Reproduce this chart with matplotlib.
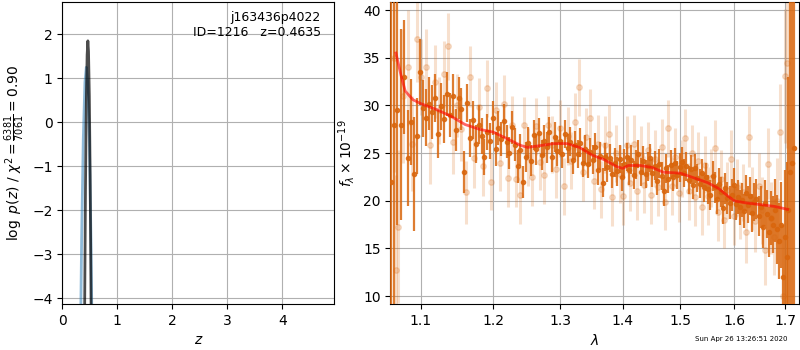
import matplotlib
matplotlib.use("Agg")
import matplotlib.pyplot as plt
from matplotlib.ticker import NullLocator, NullFormatter, FixedLocator, FixedFormatter

# --- p(z) panel ---
z_fit = [0.405, 0.420, 0.435, 0.450, 0.4635, 0.475, 0.490, 0.505, 0.520, 0.526]
logp_fit = [-4.23, -1.51, 0.41, 1.53, 1.85, 1.61, 0.60, -1.21, -3.83, -4.90]

z_prior = [0.320, 0.350, 0.380, 0.410, 0.435, 0.460, 0.490, 0.520, 0.550]
logp_prior = [-5.90, -2.65, -0.38, 0.91, 1.25, 0.91, -0.38, -2.65, -5.90]

title_text = "j163436p4022\nID=1216   z=0.4635"
timestamp = "Sun Apr 26 13:26:51 2020"

# --- spectrum panel: strong points ---
wave_a = [1.062, 1.066, 1.070, 1.074, 1.079, 1.083, 1.087, 1.091, 1.095, 1.099,
          1.103, 1.107, 1.111, 1.115, 1.119, 1.123, 1.127, 1.131, 1.135, 1.139,
          1.143, 1.147, 1.151, 1.155, 1.159, 1.163, 1.167, 1.171, 1.175, 1.179,
          1.183, 1.187, 1.191, 1.195, 1.199, 1.203, 1.207, 1.211, 1.215, 1.219,
          1.223, 1.227, 1.231, 1.235, 1.239, 1.243, 1.247, 1.251, 1.255, 1.259,
          1.263, 1.267, 1.271, 1.275, 1.279, 1.283, 1.287, 1.291, 1.295, 1.299,
          1.303, 1.307, 1.311, 1.315, 1.319, 1.323, 1.327, 1.331, 1.335, 1.339,
          1.343, 1.347, 1.351, 1.355, 1.359, 1.363, 1.367, 1.371, 1.375, 1.379,
          1.383, 1.387, 1.391, 1.395, 1.399, 1.403, 1.407, 1.411, 1.415, 1.419,
          1.423, 1.427, 1.431, 1.435, 1.439, 1.443, 1.447, 1.451, 1.455, 1.459,
          1.463, 1.467, 1.471, 1.475, 1.479, 1.483, 1.487, 1.491, 1.495, 1.499,
          1.503, 1.507, 1.511, 1.515, 1.519, 1.523, 1.527, 1.531, 1.535, 1.539,
          1.543, 1.547, 1.551, 1.555, 1.559, 1.563, 1.567, 1.571, 1.575, 1.579,
          1.583, 1.587, 1.591, 1.595, 1.599, 1.603, 1.607, 1.611, 1.615, 1.619,
          1.623, 1.627, 1.631, 1.635, 1.639, 1.643, 1.647, 1.651, 1.655, 1.659,
          1.663, 1.667, 1.671, 1.675, 1.679, 1.683, 1.687, 1.691, 1.695, 1.699,
          1.703, 1.707, 1.711, 1.715, 1.719]
flux_a = [22.0, 28.0, 29.5, 28.0, 33.0, 24.5, 28.3, 22.8, 26.8, 33.5,
          29.7, 28.7, 30.2, 29.3, 30.8, 27.0, 29.9, 28.6, 31.2, 29.0,
          31.0, 27.4, 30.8, 29.6, 23.0, 30.3, 26.6, 28.5, 26.0, 28.0,
          26.8, 24.6, 27.2, 26.3, 28.7, 25.4, 27.6, 26.5, 28.4, 26.2,
          25.0, 27.7, 25.9, 23.6, 25.3, 22.0, 24.6, 26.1, 24.2, 26.9,
          25.4, 27.1, 24.8, 26.3, 25.6, 27.2, 24.6, 26.7, 25.2, 26.3,
          24.9, 27.0, 25.5, 26.2, 24.3, 25.8, 24.9, 26.1, 24.0, 25.4,
          23.9, 25.1, 24.3, 25.6, 23.2, 24.7, 21.9, 24.6, 23.5, 24.5,
          22.8, 24.0, 23.1, 24.4, 22.5, 23.9, 24.6, 23.2, 24.3, 22.7,
          23.8, 24.9, 23.0, 24.2, 22.8, 23.6, 24.5, 22.9, 23.7, 22.1,
          23.9, 22.6, 21.0, 23.4, 22.3, 23.8, 22.5, 24.0, 22.7, 23.5,
          24.1, 22.9, 23.6, 22.2, 23.3, 21.7, 23.4, 22.4, 21.8, 22.9,
          21.4, 22.5, 21.2, 20.6, 22.6, 21.4, 20.2, 21.8, 20.9, 19.2,
          21.3, 20.3, 19.8, 20.6, 21.7, 19.7, 20.4, 19.3, 20.1, 18.9,
          20.8, 19.6, 20.5, 18.7, 19.9, 20.2, 18.4, 19.3, 17.3, 19.8,
          18.6, 16.7, 18.2, 17.5, 19.0, 17.0, 15.8, 17.5, 12.0, 16.2,
          14.1, 19.0, 23.0, 24.0, 25.5]
err_a = [30, 20, 12, 10, 6, 5, 4.5, 6, 4, 3.5,
         3, 3, 2.8, 2.8, 2.5, 2.5, 2.5, 2.5, 2.3, 2.3,
         2.3, 2.2, 2.2, 2.2, 2.2, 2.0, 2.0, 2.0, 2.0, 2.0,
         1.9, 1.9, 1.9, 1.9, 1.8, 1.8, 1.8, 1.8, 1.8, 1.7,
         1.7, 1.7, 1.7, 1.7, 1.7, 1.7, 1.6, 1.6, 1.6, 1.6,
         1.6, 1.6, 1.6, 1.6, 1.6, 1.6, 1.6, 1.6, 1.6, 1.5,
         1.5, 1.5, 1.5, 1.5, 1.5, 1.5, 1.5, 1.5, 1.5, 1.5,
         1.5, 1.5, 1.5, 1.5, 1.5, 1.5, 1.5, 1.5, 1.5, 1.5,
         1.5, 1.5, 1.5, 1.5, 1.5, 1.5, 1.5, 1.5, 1.5, 1.5,
         1.5, 1.5, 1.5, 1.5, 1.5, 1.5, 1.5, 1.5, 1.5, 1.5,
         1.5, 1.5, 1.5, 1.5, 1.5, 1.5, 1.5, 1.5, 1.5, 1.5,
         1.5, 1.5, 1.5, 1.5, 1.5, 1.5, 1.5, 1.5, 1.5, 1.5,
         1.5, 1.5, 1.5, 1.6, 1.6, 1.6, 1.6, 1.6, 1.6, 1.6,
         1.6, 1.7, 1.7, 1.7, 1.7, 1.7, 1.8, 1.8, 1.8, 1.8,
         1.9, 1.9, 2.0, 2.0, 2.0, 2.1, 2.1, 2.2, 2.3, 2.4,
         2.5, 2.6, 2.8, 3.0, 3.3, 3.6, 4.0, 4.5, 5.5, 7,
         10, 14, 20, 25, 30]

# --- spectrum panel: faint points ---
wave_b = [1.065, 1.068, 1.071, 1.077, 1.083, 1.089, 1.095, 1.101, 1.107, 1.113,
          1.119, 1.125, 1.131, 1.137, 1.143, 1.149, 1.155, 1.161, 1.167, 1.173,
          1.179, 1.185, 1.191, 1.197, 1.203, 1.209, 1.215, 1.221, 1.227, 1.233,
          1.239, 1.245, 1.251, 1.257, 1.263, 1.269, 1.275, 1.281, 1.287, 1.293,
          1.299, 1.305, 1.311, 1.317, 1.323, 1.329, 1.335, 1.341, 1.347, 1.353,
          1.359, 1.365, 1.371, 1.377, 1.383, 1.389, 1.395, 1.401, 1.407, 1.413,
          1.419, 1.425, 1.431, 1.437, 1.443, 1.449, 1.455, 1.461, 1.467, 1.473,
          1.479, 1.485, 1.491, 1.497, 1.503, 1.509, 1.515, 1.521, 1.527, 1.533,
          1.539, 1.545, 1.551, 1.557, 1.563, 1.569, 1.575, 1.581, 1.587, 1.593,
          1.599, 1.605, 1.611, 1.617, 1.623, 1.629, 1.635, 1.641, 1.647, 1.653,
          1.659, 1.665, 1.671, 1.677, 1.683, 1.689, 1.695, 1.699, 1.703]
flux_b = [35.0, 12.7, 17.3, 31.0, 34.0, 26.0, 37.0, 33.0, 34.0, 25.8,
          32.5, 29.5, 33.3, 36.2, 26.2, 30.0, 27.5, 20.9, 33.0, 24.5,
          29.8, 23.6, 31.8, 22.0, 29.5, 24.0, 30.2, 22.4, 28.0, 22.3,
          20.6, 27.9, 24.6, 22.5, 27.8, 24.1, 22.7, 28.0, 25.9, 23.3,
          27.6, 21.5, 26.8, 24.2, 28.3, 31.9, 23.0, 26.7, 28.7, 22.1,
          26.0, 21.2, 25.9, 27.0, 20.4, 25.0, 22.8, 20.5, 25.9, 21.9,
          26.0, 21.0, 24.8, 21.7, 25.3, 20.6, 24.4, 21.4, 25.6, 19.9,
          27.6, 21.5, 24.6, 20.8, 23.4, 26.6, 21.0, 25.0, 20.4, 24.2,
          19.4, 23.8, 20.5, 22.4, 25.5, 18.8, 22.3, 18.0, 21.1, 24.4,
          18.4, 21.4, 19.0, 20.9, 16.7, 26.7, 20.2, 17.9, 21.6, 19.0,
          14.8, 23.9, 18.2, 16.2, 20.0, 27.2, 10.0, 33.1, 34.5]
err_b = [12, 10, 8, 7, 6, 5, 4.5, 4, 4, 4,
         3.8, 3.5, 3.5, 3.5, 3.4, 3.3, 3.3, 3.3, 3.2, 3.2,
         3.1, 3.1, 3.0, 3.0, 3.0, 3.0, 3.0, 3.0, 3.0, 3.0,
         3.0, 3.0, 3.0, 3.0, 3.0, 3.0, 3.0, 3.0, 3.0, 3.0,
         3.0, 3.0, 3.0, 3.0, 3.0, 3.0, 3.0, 3.0, 3.0, 3.0,
         3.0, 3.0, 3.0, 3.0, 3.0, 3.0, 3.0, 3.0, 3.0, 3.0,
         3.0, 3.0, 3.0, 3.0, 3.0, 3.0, 3.0, 3.0, 3.0, 3.0,
         3.0, 3.0, 3.0, 3.0, 3.0, 3.0, 3.0, 3.0, 3.0, 3.0,
         3.0, 3.0, 3.0, 3.0, 3.0, 3.0, 3.0, 3.0, 3.0, 3.0,
         3.0, 3.0, 3.0, 3.0, 3.2, 3.2, 3.3, 3.3, 3.4, 3.5,
         3.6, 3.7, 3.8, 4.0, 4.5, 5, 6, 7, 9]

# --- model ---
wave_model = [1.068, 1.075, 1.080, 1.090, 1.100, 1.120, 1.140, 1.160, 1.180, 1.200,
              1.220, 1.240, 1.250, 1.270, 1.290, 1.310, 1.330, 1.350, 1.370, 1.390,
              1.400, 1.410, 1.430, 1.450, 1.470, 1.500, 1.520, 1.550, 1.570, 1.590,
              1.600, 1.620, 1.650, 1.680, 1.705]
flux_model = [35.5, 33.0, 31.5, 30.6, 30.2, 29.6, 28.9, 28.0, 27.5, 27.2,
              26.5, 25.8, 25.6, 25.8, 26.0, 26.0, 25.6, 24.8, 24.3, 23.6,
              23.4, 23.7, 23.7, 23.5, 23.0, 22.9, 22.5, 21.9, 21.3, 20.4,
              20.0, 19.8, 19.6, 19.4, 19.1]

wave_ticks = [1.1, 1.2, 1.3, 1.4, 1.5, 1.6, 1.7]

orange = (0.85, 0.4, 0.05)

fig = plt.figure(figsize=(8, 3.5), dpi=100)
ax1 = fig.add_axes([0.078, 0.131, 0.340, 0.863])
ax2 = fig.add_axes([0.488, 0.131, 0.511, 0.863])

# p(z)
ax1.plot(z_prior, logp_prior, color='#1f77b4', alpha=0.5, lw=2)
ax1.plot(z_fit, logp_fit, color='k', alpha=0.7, lw=2)
ax1.set_xlim(0, 4.95)
ax1.set_ylim(-4.13, 2.73)
ax1.set_xticks([0, 1, 2, 3, 4])
ax1.set_yticks([-4, -3, -2, -1, 0, 1, 2])
ax1.grid()
ax1.set_xlabel('$z$')
ax1.set_ylabel(r'$\log\ p(z)$ / $\chi^2=\frac{6381}{7061}=0.90$')
ax1.text(0.95, 0.97, title_text, ha='right', va='top', fontsize=9,
         transform=ax1.transAxes, multialignment='right')

# spectrum
ax2.errorbar(wave_b, flux_b, yerr=err_b, marker='o', ms=4, ls='none',
             color=orange, alpha=0.2, elinewidth=2.2, zorder=2)
ax2.errorbar(wave_a, flux_a, yerr=err_a, marker='o', ms=3, ls='none',
             color=orange, alpha=0.85, elinewidth=1.6, zorder=3)
ax2.plot(wave_model, flux_model, color='r', alpha=0.6, lw=2, zorder=4)
ax2.set_xscale('log')
ax2.set_xlim(1.061, 1.729)
ax2.set_ylim(9.16, 40.84)
ax2.xaxis.set_major_locator(FixedLocator(wave_ticks))
ax2.xaxis.set_major_formatter(FixedFormatter(['%.1f' % w for w in wave_ticks]))
ax2.xaxis.set_minor_locator(NullLocator())
ax2.xaxis.set_minor_formatter(NullFormatter())
ax2.set_yticks([10, 15, 20, 25, 30, 35, 40])
ax2.grid()
ax2.set_xlabel(r'$\lambda$')
ax2.set_ylabel(r'$f_\lambda\times10^{-19}$')

fig.text(0.984, 0.022, timestamp, ha='right', va='bottom', fontsize=5)

fig.savefig('out.png', dpi=100)
